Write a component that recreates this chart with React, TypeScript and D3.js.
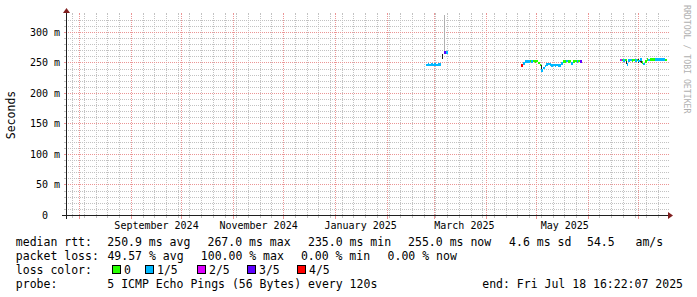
import React from "react";
import * as d3 from "d3";

// ---------- data ----------
const startTime = "2024-07-24 12:00:00";
const endTime = "2025-07-18 16:22:07";

const yTickValues = [0, 50, 100, 150, 200, 250, 300];
const yTickLabels = ["0", "50 m", "100 m", "150 m", "200 m", "250 m", "300 m"];

// label anchor dates (RRDtool centres month labels inside the month)
const monthLabelDates = ["2024-09-16", "2024-11-16", "2025-01-16", "2025-03-19", "2025-05-18"];
const monthLabels = ["September 2024", "November 2024", "January 2025", "March 2025", "May 2025"];

const lossNames = ["0", "1/5", "2/5", "3/5", "4/5"];
const lossColors = ["#26ff00", "#00b8ff", "#dd00ff", "#5e00ff", "#ff0000"];

// daily medians (ms) and loss level index, per contiguous run of days
const run1Start = "2025-02-24";
const run1Median = [246.8, 247.4, 246.6, 247.5, 246.8, 247.3, 246.6, 247.4, 246.9, null, null, 267.0, 267.0];
const run1Loss = [1, 1, 1, 1, 1, 1, 1, 1, 1, 0, 0, 3, 1];

const run2Start = "2025-04-22";
const run2Median = [
  245.5, 249.0, 252.0, 252.5, 252.0, 252.8, 252.3, 252.8, 252.5, 253.0,
  250.0, 246.5, 237.5, 241.5, 245.0, 247.5, 248.0, 247.0, 246.0, 246.5,
  245.8, 246.5, 245.8, 246.2, 249.0, 252.0, 252.5, 252.8, 252.3, 252.8,
  249.5, 252.5, 252.8, 252.3, 252.8, 252.0,
];
const run2Loss = [
  4, 1, 1, 1, 1, 0, 1, 0, 0, 0,
  0, 0, 1, 1, 1, 1, 1, 1, 1, 1,
  1, 1, 1, 1, 1, 0, 0, 1, 0, 0,
  1, 0, 0, 1, 0, 3,
];

const run3Start = "2025-06-20";
const run3Median = [
  255.0, 254.5, 254.0, 254.5, 247.5, 253.5, 254.5, 254.0, 254.8, 254.3,
  254.8, 253.0, 255.5, 250.5, 248.0, 252.0, 255.5, 255.0, 255.8, 255.5,
  255.8, 255.5, 255.8, 255.5, 255.8, 255.6, 255.8, 255.0,
];
const run3Loss = [
  2, 0, 1, 0, 1, 1, 1, 0, 0, 1,
  0, 1, 1, 0, 1, 0, 0, 1, 0, 0,
  0, 1, 1, 1, 1, 1, 1, 0,
];

// dark smoke (ping spread) and outlier spike
const smokeDates = ["2025-03-06", "2025-04-22", "2025-05-04", "2025-06-24", "2025-07-01", "2025-07-02", "2025-07-03"];
const smokeLoMs = [256, 243, 235, 247, 250, 252, 249];
const smokeHiMs = [265, 248, 246, 254, 256, 258, 253];
const spikeDates = ["2025-03-07"];
const spikeLoMs = [268];
const spikeHiMs = [400];

const rttLegend = ["median rtt:", "250.9 ms avg", "267.0 ms max", "235.0 ms min", "255.0 ms now", "4.6 ms sd", "54.5", "am/s"];
const lossLegend = ["packet loss:", "49.57 % avg", "100.00 % max", "0.00 % min", "0.00 % now"];
const probeLegend = ["probe:", "5 ICMP Echo Pings (56 Bytes) every 120s", "end: Fri Jul 18 16:22:07 2025"];

// ---------- layout ----------
const W = 697;
const H = 297;
const L = 67;        // time scale left
const R = 668;       // time scale right
const AX = 66;       // y axis column
const AY = 215;      // x axis row
const TOP = 15;      // top row of plot
const GRID_L = 64;
const GRID_R = 669;
const rttX = [15.8, 107.3, 207.5, 308, 408.1, 509.1, 587, 635.5];
const lossX = [15.8, 107.4, 200.8, 300.9, 387.6];
const boxX = [112.5, 145.5, 197.5, 247.5, 297.5];
const MONO = "DejaVu Sans Mono, monospace";
const GRID = "#c2c2c2";
const MGRID = "#eb9595";

export default function App() {
  const parseT = d3.timeParse("%Y-%m-%d %H:%M:%S");
  const parseD = d3.timeParse("%Y-%m-%d");
  const t0 = parseT(startTime)!;
  const t1 = parseT(endTime)!;
  const x = d3.scaleTime().domain([t0, t1]).range([L, R]);
  const y = d3.scaleLinear().domain([0, 300]).range([215.4, 32.4]);
  const yMax = y.invert(TOP);
  const px = (v: number) => Math.floor(v);

  const minorY = d3.range(1, Math.floor(yMax / 10) + 1).map((k) => k * 10).filter((v) => v % 50 !== 0);
  const majorY = yTickValues.filter((v) => v > 0);
  const weeks = d3.timeSunday.range(t0, t1);
  const months = d3.timeMonth.range(d3.timeDay.offset(t0, 1), t1);

  const runs = [
    { start: run1Start, med: run1Median, loss: run1Loss },
    { start: run2Start, med: run2Median, loss: run2Loss },
    { start: run3Start, med: run3Median, loss: run3Loss },
  ];

  const bands: React.ReactElement[] = [];
  runs.forEach((r, ri) => {
    const s = parseD(r.start)!;
    r.med.forEach((m, i) => {
      if (m == null) return;
      const d0 = d3.timeDay.offset(s, i);
      const d1 = d3.timeDay.offset(s, i + 1);
      const xa = x(d0);
      const xb = Math.min(x(d1), R);
      const yc = y(m);
      bands.push(
        <rect key={`b${ri}-${i}`} x={xa} y={yc - 1.3} width={xb - xa} height={2.6}
          fill={lossColors[r.loss[i]]} shapeRendering="crispEdges" />
      );
    });
  });

  const clampY = (v: number) => Math.max(y(v), TOP);
  const dotsH = GRID_R - GRID_L;
  const dotsV = AY - TOP;

  return (
    <svg width={W} height={H} viewBox={`0 0 ${W} ${H}`}
      style={{ position: "absolute", left: 0, top: 0, background: "#ffffff" }}
      fontFamily={MONO}>
      <defs>
        <pattern id="hMinor" patternUnits="userSpaceOnUse" x={0} y={0} width={2} height={1}>
          <rect x={0} y={0} width={1} height={1} fill={GRID} />
        </pattern>
        <pattern id="vMinor" patternUnits="userSpaceOnUse" x={0} y={0} width={1} height={2}>
          <rect x={0} y={0} width={1} height={1} fill={GRID} />
        </pattern>
        <pattern id="hMajor" patternUnits="userSpaceOnUse" x={0} y={0} width={2} height={1}>
          <rect x={0} y={0} width={1} height={1} fill={MGRID} />
        </pattern>
        <pattern id="vMajor" patternUnits="userSpaceOnUse" x={0} y={0} width={1} height={2}>
          <rect x={0} y={0} width={1} height={1} fill={MGRID} />
        </pattern>
      </defs>
      <rect x={0} y={0} width={W} height={H} fill="#ffffff" />
      {/* minor grid */}
      {minorY.map((v) => (
        <g key={`my${v}`}>
          <rect x={GRID_L} y={px(y(v))} width={dotsH} height={1} fill="url(#hMinor)" />
          <rect x={GRID_L} y={px(y(v))} width={2} height={1} fill={GRID} />
        </g>
      ))}
      {weeks.map((d, i) => (
        <g key={`mx${i}`}>
          <rect x={px(x(d))} y={TOP} width={1} height={dotsV} fill="url(#vMinor)" />
          <rect x={px(x(d))} y={TOP - 2} width={1} height={2} fill={GRID} />
          <rect x={px(x(d))} y={AY + 1} width={1} height={2} fill={GRID} />
        </g>
      ))}
      {/* major grid */}
      {majorY.map((v) => (
        <g key={`My${v}`}>
          <rect x={GRID_L} y={px(y(v))} width={dotsH} height={1} fill="url(#hMajor)" />
          <rect x={GRID_L} y={px(y(v))} width={2} height={1} fill={MGRID} />
        </g>
      ))}
      {months.map((d, i) => (
        <g key={`Mx${i}`}>
          <rect x={px(x(d))} y={TOP} width={1} height={dotsV} fill="url(#vMajor)" />
          <rect x={px(x(d))} y={TOP - 2} width={1} height={2} fill={MGRID} />
          <rect x={px(x(d))} y={AY + 1} width={1} height={3} fill={MGRID} />
        </g>
      ))}
      {/* smoke */}
      {spikeDates.map((ds, i) => {
        const xx = px(x(parseD(ds)!));
        const yt = clampY(spikeHiMs[i]);
        return <rect key={`sp${i}`} x={xx} y={Math.round(yt)} width={1} height={Math.round(y(spikeLoMs[i]) - yt)} fill="#b0b0b0" />;
      })}
      {smokeDates.map((ds, i) => {
        const xx = px(x(parseD(ds)!));
        const yt = y(smokeHiMs[i]);
        return <rect key={`sm${i}`} x={xx} y={Math.round(yt)} width={1} height={Math.round(y(smokeLoMs[i]) - yt)} fill="#222" />;
      })}
      {bands}
      {/* axes */}
      <g fill="#1f1f1f">
        <rect x={AX - 4} y={AY} width={670 - (AX - 4)} height={1} />
        <rect x={AX} y={11} width={1} height={AY + 4 - 11} />
      </g>
      <path d={`M668,212 L673,215.5 L668,219 Z`} fill="#801f1f" />
      <path d={`M63,13 L66.5,8 L70,13 Z`} fill="#801f1f" />
      {/* y labels */}
      <g fontSize={10} fill="#000" textAnchor="end">
        {yTickValues.map((v, i) => (
          <text key={`yl${v}`} x={v === 0 ? 48 : 60} y={px(y(v)) + 4}>{yTickLabels[i]}</text>
        ))}
      </g>
      {/* x labels */}
      <g fontSize={10} fill="#000" textAnchor="middle">
        {monthLabelDates.map((ds, i) => (
          <text key={`xl${i}`} x={x(parseD(ds)!)} y={228.5}>{monthLabels[i]}</text>
        ))}
      </g>
      <text transform="translate(14.5,115) rotate(-90)" textAnchor="middle" fontSize={11.5} fill="#000">Seconds</text>
      <text transform="translate(684,5) rotate(90)" fontSize={8.2} fill="#b0b0b0">RRDTOOL / TOBI OETIKER</text>
      {/* legend */}
      <g fontSize={11.5} fill="#000">
        {rttLegend.map((s, i) => (
          <text key={`r${i}`} x={rttX[i]} y={245.5}>{s}</text>
        ))}
        {lossLegend.map((s, i) => (
          <text key={`l${i}`} x={lossX[i]} y={259.5}>{s}</text>
        ))}
        <text x={15.8} y={273.5}>loss color:</text>
        {lossNames.map((s, i) => (
          <g key={`lc${i}`}>
            <rect x={boxX[i]} y={265.5} width={8} height={8} fill={lossColors[i]} stroke="#000" strokeWidth={1} />
            <text x={boxX[i] + 11.5} y={273.5}>{s}</text>
          </g>
        ))}
        <text x={15.8} y={287.5}>{probeLegend[0]}</text>
        <text x={107.3} y={287.5}>{probeLegend[1]}</text>
        <text x={683} y={287.5} textAnchor="end">{probeLegend[2]}</text>
      </g>
    </svg>
  );
}
